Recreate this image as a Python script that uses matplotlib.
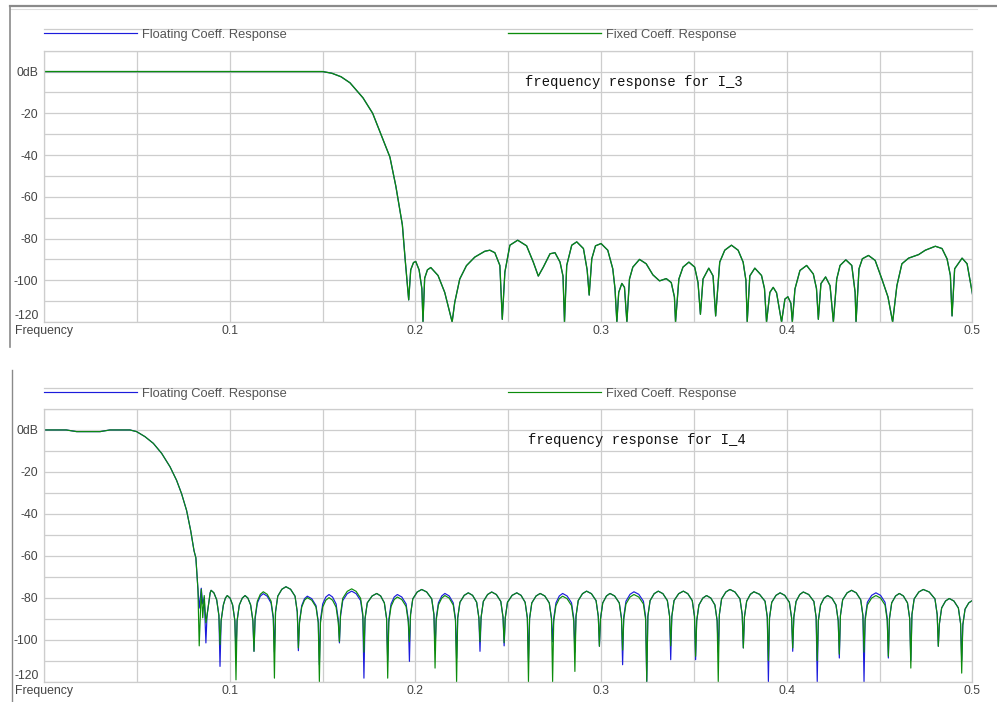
import matplotlib
matplotlib.use('Agg')
import matplotlib.pyplot as plt
from matplotlib.lines import Line2D

# ---- data: frequency (normalised) / magnitude (dB) ----
I3_FREQ = [
    0.0, 0.15, 0.155, 0.16, 0.1648, 0.1718, 0.177, 0.1819, 0.1863, 0.1895, 0.193, 0.1945, 0.1964,
    0.1975, 0.1990, 0.2002, 0.2020, 0.2035, 0.2041, 0.2050, 0.2065, 0.2083, 0.2122, 0.2158, 0.2198,
    0.2212, 0.2239, 0.2275, 0.232, 0.2374, 0.2401, 0.2428, 0.2455, 0.2468,
    0.2482, 0.2509, 0.2551, 0.2599, 0.2635, 0.2662, 0.2689, 0.2725, 0.2752, 0.2779, 0.2795, 0.2803,
    0.2815, 0.2842, 0.2869, 0.2905, 0.2925, 0.2936, 0.2950, 0.2970, 0.300, 0.3036, 0.3063, 0.3075, 0.3085,
    0.3095, 0.3112, 0.3126, 0.3139, 0.3153, 0.3171, 0.3207, 0.3243, 0.3279, 0.3315, 0.3351, 0.3378,
    0.3395, 0.3401, 0.3419, 0.3441, 0.3473, 0.3504, 0.3522, 0.3535, 0.3549, 0.358, 0.3603, 0.3617,
    0.3639, 0.3666, 0.3702, 0.3738, 0.3765, 0.3780, 0.3787, 0.3801, 0.3828, 0.3864, 0.3880, 0.3891,
    0.3909, 0.3927, 0.3945, 0.3972, 0.399, 0.4006, 0.4022, 0.403, 0.4044, 0.4071, 0.4107, 0.4143,
    0.4160, 0.417, 0.4184, 0.4209, 0.4233, 0.4251, 0.4269, 0.4287, 0.4318, 0.435, 0.4368, 0.4373,
    0.4389, 0.4407, 0.444, 0.4476, 0.4512, 0.4545, 0.457, 0.4593, 0.462, 0.4656, 0.471, 0.4746,
    0.48, 0.4836, 0.4863, 0.4881, 0.489, 0.4904, 0.4944, 0.4971, 0.5,
]
I3_DB = [
    0, 0, -0.8, -2.5, -5.4, -12.6, -20, -31, -41, -55, -73.5, -90, -109.4,
    -95, -91.5, -91, -95, -104, -120, -99, -95, -93.9, -97.7, -105.8, -120,
    -110.6, -99.4, -93, -88.9, -86.1, -85.6, -86.8, -92.9, -118.7,
    -96.1, -83.2, -80.8, -83.5, -91.3, -98, -93.7, -87.3, -86.8, -91.3, -98, -120,
    -92.9, -83.2, -81.6, -84.8, -95, -107.1, -89.7, -83.5, -82.4, -85.6, -94.5, -104, -120,
    -105.8, -101.5, -103.4, -120, -99.4, -93.7, -90, -92.1, -97.4, -100.3, -99.2, -101.1,
    -108, -120, -99.4, -93.7, -91.3, -93.7, -101.1, -116.3, -99.4, -94.2, -97.9, -117.1,
    -91.3, -85.6, -83.2, -85.6, -91.3, -100, -120, -97.9, -94.2, -97.7, -104, -120,
    -105.8, -103.4, -106, -120, -109, -107.9, -111, -120, -104.2, -95.3, -92.9, -97,
    -104, -118.7, -101.6, -98.4, -102.6, -120, -99.4, -92.9, -90.2, -92.9, -105.8, -120,
    -94.5, -89.7, -88.1, -90.5, -99.4, -108, -120, -102.6, -92.1, -89.4, -87.7, -85.6,
    -83.7, -84.8, -89.7, -97.7, -117.1, -94.5, -89.4, -92.1, -106.6,
]

# one sidelobe per line (rise, top, fall, null)
I4_FREQ = [
    0.0, 0.012, 0.0176, 0.0302, 0.0355, 0.0463, 0.0499, 0.0544, 0.0589, 0.0634, 0.0679, 0.0714,
    0.0741, 0.0768, 0.079, 0.0808, 0.0818, 0.0824, 0.0829,
    0.0836, 0.0847, 0.0855, 0.0863, 0.0872,
    0.0878, 0.0890, 0.0895, 0.0900, 0.0915, 0.0930, 0.0942, 0.0948,
    0.0954, 0.0966, 0.0977, 0.0987, 0.1002, 0.1016, 0.1028, 0.1034,
    0.1040, 0.1052, 0.1068, 0.1083, 0.1098, 0.1113, 0.1125, 0.1131,
    0.1137, 0.1149, 0.1165, 0.1181, 0.1202, 0.1223, 0.1235, 0.1241,
    0.1247, 0.1259, 0.1281, 0.1303, 0.1328, 0.1352, 0.1364, 0.1370,
    0.1376, 0.1388, 0.1403, 0.1418, 0.1442, 0.1465, 0.1477, 0.1483,
    0.1489, 0.1501, 0.1518, 0.1535, 0.1554, 0.1573, 0.1585, 0.1591,
    0.1597, 0.1609, 0.1633, 0.1657, 0.1681, 0.1705, 0.1717, 0.1723,
    0.1729, 0.1741, 0.1767, 0.1792, 0.1813, 0.1833, 0.1845, 0.1851,
    0.1857, 0.1869, 0.1886, 0.1903, 0.1927, 0.1950, 0.1962, 0.1968,
    0.1974, 0.1986, 0.2010, 0.2034, 0.2061, 0.2088, 0.2100, 0.2106,
    0.2112, 0.2124, 0.2142, 0.2159, 0.2182, 0.2204, 0.2216, 0.2222,
    0.2228, 0.2240, 0.2263, 0.2285, 0.2308, 0.2330, 0.2342, 0.2348,
    0.2354, 0.2366, 0.2389, 0.2411, 0.2436, 0.2460, 0.2472, 0.2478,
    0.2484, 0.2496, 0.2521, 0.2546, 0.2569, 0.2591, 0.2603, 0.2609,
    0.2615, 0.2627, 0.2650, 0.2672, 0.2697, 0.2721, 0.2733, 0.2739,
    0.2745, 0.2757, 0.2775, 0.2793, 0.2817, 0.2841, 0.2853, 0.2859,
    0.2865, 0.2877, 0.2900, 0.2922, 0.2948, 0.2973, 0.2985, 0.2991,
    0.2997, 0.3009, 0.3029, 0.3048, 0.3073, 0.3098, 0.3110, 0.3116,
    0.3122, 0.3134, 0.3156, 0.3177, 0.3203, 0.3228, 0.3240, 0.3246,
    0.3252, 0.3264, 0.3286, 0.3308, 0.3333, 0.3357, 0.3369, 0.3375,
    0.3381, 0.3393, 0.3418, 0.3443, 0.3467, 0.3491, 0.3503, 0.3509,
    0.3515, 0.3527, 0.3548, 0.3568, 0.3591, 0.3613, 0.3625, 0.3631,
    0.3637, 0.3649, 0.3672, 0.3694, 0.3721, 0.3748, 0.3760, 0.3766,
    0.3772, 0.3784, 0.3804, 0.3823, 0.3853, 0.3883, 0.3895, 0.3901,
    0.3907, 0.3919, 0.3942, 0.3964, 0.3989, 0.4014, 0.4026, 0.4032,
    0.4038, 0.4050, 0.4070, 0.4089, 0.4118, 0.4146, 0.4158, 0.4164,
    0.4170, 0.4182, 0.4201, 0.4220, 0.4243, 0.4265, 0.4277, 0.4283,
    0.4289, 0.4301, 0.4325, 0.4349, 0.4374, 0.4398, 0.4410, 0.4416,
    0.4422, 0.4434, 0.4457, 0.4480, 0.4505, 0.4529, 0.4541, 0.4547,
    0.4553, 0.4565, 0.4586, 0.4606, 0.4628, 0.4650, 0.4662, 0.4668,
    0.4674, 0.4686, 0.4711, 0.4735, 0.4767, 0.4798, 0.4810, 0.4816,
    0.4822, 0.4834, 0.4855, 0.4875, 0.4900, 0.4924, 0.4936, 0.4942,
    0.4948, 0.4960, 0.4980, 0.5000,
]
I4_FLOAT_DB = [
    0, 0, -0.8, -0.8, 0, 0, -0.8, -3.2, -6.4, -11.2, -17.6, -24,
    -30.4, -38.4, -48, -57.6, -61, -69, -76,
    -85, -75.5, -83, -80, -101.6,
    -88.5, -81, -77.7, -76.5, -77.7, -81, -88.5, -112.8,
    -91, -83.5, -80.2, -79, -80.2, -83.5, -91, -106.4,
    -91, -83.5, -80.2, -79, -80.2, -83.5, -91, -105.6,
    -90.1, -82.6, -79.3, -78.1, -79.3, -82.6, -90.1, -106,
    -86.8, -79.3, -76, -74.8, -76, -79.3, -86.8, -105.3,
    -91.3, -83.8, -80.5, -79.3, -80.5, -83.8, -91.3, -112,
    -90.5, -83, -79.7, -78.5, -79.7, -83, -90.5, -101.6,
    -88.9, -81.4, -78.1, -76.9, -78.1, -81.4, -88.9, -118.4,
    -90, -82.5, -79.2, -78, -79.2, -82.5, -90, -110,
    -90.5, -83, -79.7, -78.5, -79.7, -83, -90.5, -110.4,
    -88.1, -80.6, -77.3, -76.1, -77.3, -80.6, -88.1, -105,
    -90, -82.5, -79.2, -78, -79.2, -82.5, -90, -109,
    -89.7, -82.2, -78.9, -77.7, -78.9, -82.2, -89.7, -105.6,
    -89.3, -81.8, -78.5, -77.3, -78.5, -81.8, -89.3, -103,
    -89.7, -82.2, -78.9, -77.7, -78.9, -82.2, -89.7, -110,
    -90, -82.5, -79.2, -78, -79.2, -82.5, -90, -101,
    -90, -82.5, -79.2, -78, -79.2, -82.5, -90, -106,
    -88.9, -81.4, -78.1, -76.9, -78.1, -81.4, -88.9, -103.2,
    -90, -82.5, -79.2, -78, -79.2, -82.5, -90, -112,
    -89.2, -81.7, -78.4, -77.2, -78.4, -81.7, -89.2, -120,
    -88.9, -81.4, -78.1, -76.9, -78.1, -81.4, -88.9, -109.6,
    -88.9, -81.4, -78.1, -76.9, -78.1, -81.4, -88.9, -109.6,
    -91, -83.5, -80.2, -79, -80.2, -83.5, -91, -106,
    -88.1, -80.6, -77.3, -76.1, -77.3, -80.6, -88.1, -104,
    -89.2, -81.7, -78.4, -77.2, -78.4, -81.7, -89.2, -120,
    -89.7, -82.2, -78.9, -77.7, -78.9, -82.2, -89.7, -105.6,
    -89.3, -81.8, -78.5, -77.3, -78.5, -81.8, -89.3, -120,
    -91, -83.5, -80.2, -79, -80.2, -83.5, -91, -108.8,
    -88.5, -81, -77.7, -76.5, -77.7, -81, -88.5, -120,
    -89.7, -82.2, -78.9, -77.7, -78.9, -82.2, -89.7, -108.8,
    -90, -82.5, -79.2, -78, -79.2, -82.5, -90, -110,
    -88.1, -80.6, -77.3, -76.1, -77.3, -80.6, -88.1, -103.2,
    -92.4, -84.9, -81.6, -80.4, -81.6, -84.9, -92.4, -110,
    -93, -85.5, -82.5, -81.3,
]
I4_FIXED_DB = [
    0, 0, -0.8, -0.8, 0, 0, -0.8, -3.2, -6.4, -11.2, -17.6, -24,
    -30.4, -38.4, -48, -57.6, -61, -69, -76,
    -103, -76, -89.6, -79, -92,
    -88.5, -81, -77.7, -76.5, -77.7, -81, -88.5, -102.4,
    -91, -83.5, -80.2, -79, -80.2, -83.5, -91, -119.2,
    -91, -83.5, -80.2, -79, -80.2, -83.5, -91, -105.6,
    -89.2, -81.7, -78.4, -77.2, -78.4, -81.7, -89.2, -118.4,
    -86.8, -79.3, -76, -74.8, -76, -79.3, -86.8, -104,
    -92, -84.5, -81.2, -80, -81.2, -84.5, -92, -120,
    -92, -84.5, -81.2, -80, -81.2, -84.5, -92, -101,
    -87.8, -80.3, -77, -75.8, -77, -80.3, -87.8, -106,
    -90, -82.5, -79.2, -78, -79.2, -82.5, -90, -118.4,
    -91.7, -84.2, -80.9, -79.7, -80.9, -84.2, -91.7, -101,
    -88.1, -80.6, -77.3, -76.1, -77.3, -80.6, -88.1, -113.6,
    -91, -83.5, -80.2, -79, -80.2, -83.5, -91, -120,
    -89.7, -82.2, -78.9, -77.7, -78.9, -82.2, -89.7, -101,
    -89.3, -81.8, -78.5, -77.3, -78.5, -81.8, -89.3, -101.5,
    -89.7, -82.2, -78.9, -77.7, -78.9, -82.2, -89.7, -120,
    -90, -82.5, -79.2, -78, -79.2, -82.5, -90, -120,
    -91.3, -83.8, -80.5, -79.3, -80.5, -83.8, -91.3, -115.2,
    -88.9, -81.4, -78.1, -76.9, -78.1, -81.4, -88.9, -103.2,
    -90, -82.5, -79.2, -78, -79.2, -82.5, -90, -105,
    -90.5, -83, -79.7, -78.5, -79.7, -83, -90.5, -120,
    -88.9, -81.4, -78.1, -76.9, -78.1, -81.4, -88.9, -103,
    -88.9, -81.4, -78.1, -76.9, -78.1, -81.4, -88.9, -108,
    -91, -83.5, -80.2, -79, -80.2, -83.5, -91, -120,
    -88.1, -80.6, -77.3, -76.1, -77.3, -80.6, -88.1, -104,
    -89.2, -81.7, -78.4, -77.2, -78.4, -81.7, -89.2, -110,
    -89.7, -82.2, -78.9, -77.7, -78.9, -82.2, -89.7, -104,
    -89.3, -81.8, -78.5, -77.3, -78.5, -81.8, -89.3, -110,
    -91, -83.5, -80.2, -79, -80.2, -83.5, -91, -107,
    -88.5, -81, -77.7, -76.5, -77.7, -81, -88.5, -106,
    -91, -83.5, -80.2, -79, -80.2, -83.5, -91, -108,
    -90, -82.5, -79.2, -78, -79.2, -82.5, -90, -113.6,
    -88.1, -80.6, -77.3, -76.1, -77.3, -80.6, -88.1, -103.2,
    -92.4, -84.9, -81.6, -80.4, -81.6, -84.9, -92.4, -116,
    -93, -85.5, -82.5, -81.3,
]

Y_TICKS = [0, -20, -40, -60, -80, -100, -120]
Y_TICK_LABELS = ['0dB', '-20', '-40', '-60', '-80', '-100', '-120']
X_TICKS = [0.0, 0.1, 0.2, 0.3, 0.4, 0.5]
X_TICK_LABELS = ['Frequency', '0.1', '0.2', '0.3', '0.4', '0.5']
LEGEND_LABELS = ['Floating Coeff. Response', 'Fixed Coeff. Response']
TITLES = ['frequency response for I_3', 'frequency response for I_4']

BLUE = '#1c1cdc'
GREEN = '#0c8c0c'
GRID = '#cdcdcd'
TEXT = '#444444'
SANS = 'Liberation Sans'


def style_axes(ax, legend_y, rule_y):
    ax.set_xlim(0, 0.5)
    ax.set_ylim(-120, 10)
    ax.set_xticks(X_TICKS)
    ax.set_xticklabels(X_TICK_LABELS)
    ax.set_xticks([0.05, 0.15, 0.25, 0.35, 0.45], minor=True)
    ax.set_yticks(Y_TICKS)
    ax.set_yticklabels(Y_TICK_LABELS)
    ax.set_yticks([10, -10, -30, -50, -70, -90, -110], minor=True)
    ax.grid(True, which='both', color=GRID, linewidth=0.9)
    ax.set_axisbelow(True)
    ax.tick_params(which='both', length=0, labelsize=8.8, labelcolor=TEXT)
    ax.tick_params(axis='y', pad=4)
    ax.tick_params(axis='x', pad=2.5)
    for lab in ax.get_yticklabels() + ax.get_xticklabels():
        lab.set_family(SANS)
    ax.get_yticklabels()[-1].set_verticalalignment('bottom')
    for sp in ax.spines.values():
        sp.set_color(GRID)
        sp.set_linewidth(0.9)

    # legend strip above the plot area
    ax.add_artist(Line2D([0, 1], [rule_y, rule_y], transform=ax.transAxes,
                         color=GRID, linewidth=0.9, clip_on=False))
    lines = ax.get_lines()
    common = dict(loc='center left', frameon=False, borderpad=0, borderaxespad=0,
                  handlelength=7.2, handletextpad=0.4,
                  prop={'family': SANS, 'size': 9.3}, labelcolor='#555555')
    leg1 = ax.legend([lines[0]], [LEGEND_LABELS[0]], bbox_to_anchor=(0.0, legend_y), **common)
    ax.add_artist(leg1)
    ax.legend([lines[1]], [LEGEND_LABELS[1]], bbox_to_anchor=(0.5, legend_y), **common)


fig = plt.figure(figsize=(9.97, 7.02), dpi=100)
fig.patch.set_facecolor('white')

ax_top = fig.add_axes([0.0441, 0.5413, 0.9313, 0.3865])
ax_top.plot(I3_FREQ, I3_DB, color=BLUE, linewidth=0.85)
ax_top.plot(I3_FREQ, I3_DB, color=GREEN, linewidth=0.95)
ax_top.text(0.259, -4.8, TITLES[0], family='Liberation Mono', fontsize=10,
            va='center', ha='left', color='#111111')
style_axes(ax_top, 1.058, 1.080)

ax_bot = fig.add_axes([0.0441, 0.0292, 0.9313, 0.3882])
ax_bot.plot(I4_FREQ, I4_FLOAT_DB, color=BLUE, linewidth=0.85)
ax_bot.plot(I4_FREQ, I4_FIXED_DB, color=GREEN, linewidth=0.85)
ax_bot.text(0.2605, -4.8, TITLES[1], family='Liberation Mono', fontsize=10,
            va='center', ha='left', color='#111111')
style_axes(ax_bot, 1.055, 1.077)

# window frame bits around the two panels
fig.add_artist(Line2D([0.0105, 1.0], [0.9915, 0.9915], transform=fig.transFigure,
                      color='#8a8a8a', linewidth=1.6))
fig.add_artist(Line2D([0.0105, 0.98], [0.9875, 0.9875], transform=fig.transFigure,
                      color='#dddddd', linewidth=0.8))
fig.add_artist(Line2D([0.0105, 0.0105], [0.9915, 0.506], transform=fig.transFigure,
                      color='#8a8a8a', linewidth=1.2))
fig.add_artist(Line2D([0.012, 0.012], [0.473, 0.0], transform=fig.transFigure,
                      color='#8a8a8a', linewidth=1.0))

fig.savefig('out.png', dpi=100, facecolor='white')
